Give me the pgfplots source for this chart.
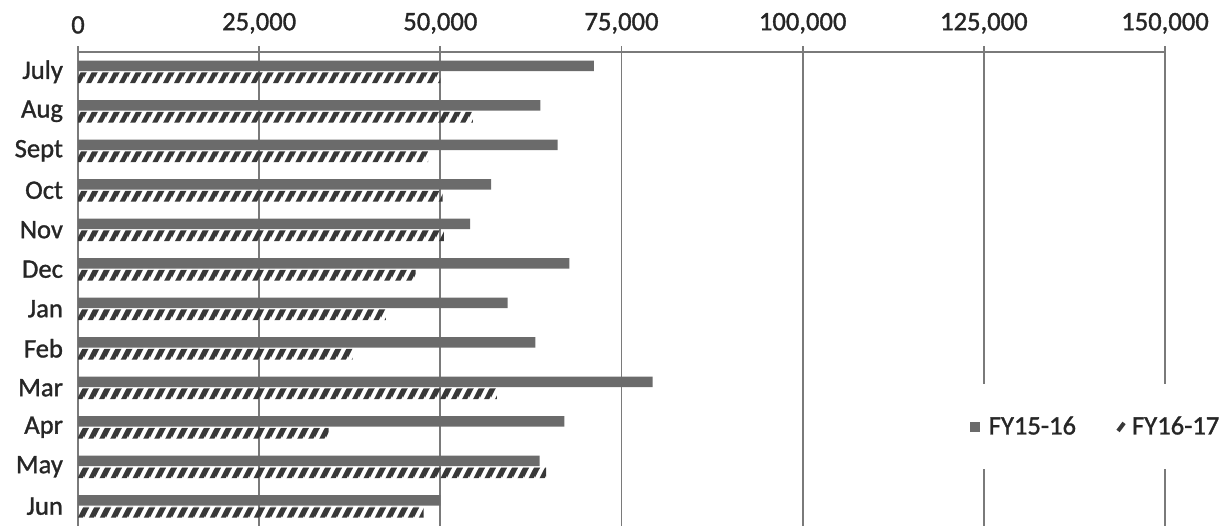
\documentclass[border=0pt]{standalone}
\usepackage{fontspec}
\setmainfont{Carlito}
\newfontfamily\lblfont[FakeBold=1.2]{Carlito}
\usepackage{pgfplots}
\usepackage{pgfplotstable}
\pgfplotsset{compat=1.18}
\usetikzlibrary{patterns}

\definecolor{barsolid}{HTML}{6B6B6B}
\definecolor{hatchcol}{HTML}{383838}
\definecolor{gridcol}{HTML}{7A7A7A}

% Thick steep diagonal hatching: stripes at about 62 degrees, 5.25pt apart
\pgfdeclarepatternformonly{steephatch}{\pgfqpoint{0pt}{0pt}}{\pgfqpoint{5.25pt}{9.87pt}}{\pgfqpoint{5.25pt}{9.87pt}}{%
  \pgfpathmoveto{\pgfqpoint{0pt}{0pt}}%
  \pgfpathlineto{\pgfqpoint{2.7pt}{0pt}}%
  \pgfpathlineto{\pgfqpoint{7.95pt}{9.87pt}}%
  \pgfpathlineto{\pgfqpoint{5.25pt}{9.87pt}}%
  \pgfpathclose
  \pgfpathmoveto{\pgfqpoint{-5.25pt}{0pt}}%
  \pgfpathlineto{\pgfqpoint{-2.55pt}{0pt}}%
  \pgfpathlineto{\pgfqpoint{2.7pt}{9.87pt}}%
  \pgfpathlineto{\pgfqpoint{0pt}{9.87pt}}%
  \pgfpathclose
  \pgfusepath{fill}%
}

% Monthly totals, July (0) to June (11)
\pgfplotstableread{
idx fyA   fyB
0   71200 50000
1   63800 54500
2   66200 48300
3   57000 50300
4   54100 50500
5   67800 46600
6   59300 42500
7   63100 37900
8   79300 57800
9   67100 34600
10  63700 64600
11  50000 47700
}\monthly

\begin{document}
\begin{tikzpicture}
\useasboundingbox (0,0) rectangle (609.5pt,263pt);
\begin{axis}[
  at={(39pt,0pt)}, anchor=south west,
  scale only axis, width=543.5pt, height=237pt,
  xbar, bar width=0.27,
  xmin=0, xmax=150000,
  ymin=-0.5, ymax=11.5, y dir=reverse,
  axis x line*=top, axis y line*=left,
  axis line style={gridcol, line width=0.9pt},
  xtick={0,25000,50000,75000,100000,125000,150000},
  xticklabels={0,{25,000},{50,000},{75,000},{100,000},{125,000},{150,000}},
  xmajorgrids, major grid style={gridcol, line width=0.9pt},
  x tick style={gridcol, line width=0.9pt},
  tick align=outside, major tick length=3pt,
  xticklabel style={inner ysep=1pt, yshift=5pt},
  ytick={0,...,11},
  yticklabels={July,Aug,Sept,Oct,Nov,Dec,Jan,Feb,Mar,Apr,May,Jun},
  y tick style={draw=none},
  minor ytick={-0.5,0.5,...,11.5},
  minor y tick style={gridcol, line width=0.9pt},
  minor tick length=4pt,
  yticklabel style={xshift=-1pt},
  tick label style={font=\lblfont\fontsize{13.3}{15}\selectfont, text=black!85},
  legend style={at={(0.809,0.209)}, anchor=west, draw=none, fill=white,
    font=\lblfont\fontsize{13.3}{15}\selectfont, text=black!85,
    legend columns=2, /tikz/every even column/.append style={column sep=17pt},
    inner xsep=6pt, inner ysep=14pt},
]
\addplot[fill=barsolid, draw=none, bar shift=-0.15,
  legend image code/.code={\fill[barsolid] (0pt,-2.6pt) rectangle (5pt,2.6pt);
    \path (7.5pt,0pt);}]
  table[x=fyA, y=idx] {\monthly};
\addplot[draw=none, bar shift=0.15,
  pattern=steephatch, pattern color=hatchcol,
  legend image code/.code={\path (0pt,0pt);
    \draw[hatchcol, line width=2pt] (2pt,-2pt) -- (5pt,2pt); \path (7pt,0pt);}]
  table[x=fyB, y=idx] {\monthly};
\legend{FY15-16, FY16-17}
\end{axis}
\end{tikzpicture}
\end{document}
